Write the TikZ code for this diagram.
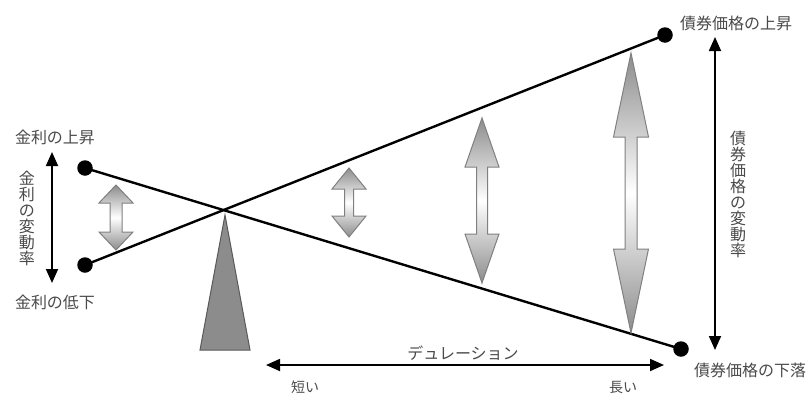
\documentclass[tikz,border=0pt]{standalone}
\usepackage{fontspec}
\newfontfamily\jp{Noto Sans CJK JP}
\usetikzlibrary{arrows.meta}
\definecolor{txtgray}{HTML}{4a4a4a}
\tikzset{
  dot/.style={circle,fill=black,inner sep=0pt,minimum size=15.5pt},
  beam/.style={line width=2.4pt,black},
  measure/.style={line width=1.8pt,black,{Triangle[width=12pt,length=14pt]}-{Triangle[width=12pt,length=14pt]}},
  lbl/.style={text=txtgray,font={\jp\fontsize{16}{16}\selectfont},inner sep=0pt},
  vlbl/.style={lbl,align=center},
  hollow/.style={draw=black!50,line width=1pt,top color=black!45,bottom color=black!45,middle color=white},
  pivot/.style={draw=black!65,line width=1pt,fill=black!45}
}
% double hollow arrow: x, ytop, ybot, head length, head half width, shaft half width
\newcommand{\dblarrow}[6]{%
  \path[hollow] (#1,#2) -- (#1+#5,#2+#4) -- (#1+#6,#2+#4) -- (#1+#6,#3-#4)
    -- (#1+#5,#3-#4) -- (#1,#3) -- (#1-#5,#3-#4) -- (#1-#6,#3-#4)
    -- (#1-#6,#2+#4) -- (#1-#5,#2+#4) -- cycle;}
\begin{document}
\begin{tikzpicture}[x=1pt,y=-1pt]
\useasboundingbox[fill=white] (0,0) rectangle (811,394);

% pivot triangle
\path[pivot] (225,215) -- (250,350) -- (200,350) -- cycle;

% dots
\node[dot] (lt) at (85,168) {};
\node[dot] (lb) at (85,265) {};
\node[dot] (rt) at (665,35) {};
\node[dot] (rb) at (681,349) {};

% beams
\draw[beam] (lt.center) -- (rb.center);
\draw[beam] (lb.center) -- (rt.center);

% hollow double arrows
\dblarrow{116}{185}{250}{18}{17}{6}
\dblarrow{349}{168}{237}{21}{17}{4.5}
\dblarrow{482}{118}{283}{49}{17}{5.5}
\dblarrow{631}{53}{333}{84}{17.5}{6}

% measure arrows
\coordinate (la1) at (52,152);
\coordinate (la2) at (52,283);
\draw[measure] (la1) -- (la2);
\coordinate (ra1) at (715,37);
\coordinate (ra2) at (715,350);
\draw[measure] (ra1) -- (ra2);
\coordinate (da1) at (266,365);
\coordinate (da2) at (664,365);
\draw[measure] (da1) -- (da2);

% labels
\node[lbl] (t1) at (55,137) {金利の上昇};
\node[lbl] (t2) at (55,302) {金利の低下};
\node[vlbl] (t3) at (27,218) {金\\利\\の\\変\\動\\率};
\node[lbl] (t4) at (736,23) {債券価格の上昇};
\node[lbl] (t5) at (750,370) {債券価格の下落};
\node[vlbl] (t6) at (738,194) {債\\券\\価\\格\\の\\変\\動\\率};
\node[lbl] (t7) at (463,353) {デュレーション};
\node[lbl,font={\jp\fontsize{14}{14}\selectfont}] (t8) at (305,387) {短い};
\node[lbl,font={\jp\fontsize{14}{14}\selectfont}] (t9) at (623,387) {長い};
\end{tikzpicture}
\end{document}
